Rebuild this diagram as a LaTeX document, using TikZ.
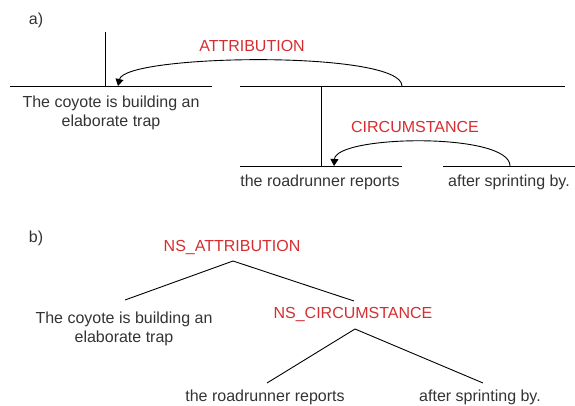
\documentclass[tikz,border=0pt]{standalone}
\usepackage{fontspec}
\setmainfont{Liberation Sans}
\usetikzlibrary{arrows.meta}

\definecolor{reltext}{RGB}{214,45,48}
\definecolor{edutext}{RGB}{51,51,51}

\begin{document}
\begin{tikzpicture}[x=1pt, y=-1pt, >={Triangle[width=8pt,length=7pt]},
  font=\fontsize{16}{18.5}\selectfont,
  T/.style={text=edutext, align=center, inner sep=0pt},
  R/.style={text=reltext, inner sep=0pt},
  seg/.style={draw=black, line width=0.9pt}]

\useasboundingbox (0,0) rectangle (575,406);

% (a) segment lines with relation arcs
\node[T] (tagA) at (36,20) {a)};

\coordinate (s1l) at (10,86);   \coordinate (s1r) at (212,86);
\coordinate (s2l) at (240,86);  \coordinate (s2r) at (565,86);
\coordinate (s3l) at (240,166); \coordinate (s3r) at (402,166);
\coordinate (s4l) at (443,166); \coordinate (s4r) at (575,166);
\coordinate (v1t) at (105,32);  \coordinate (v1b) at (105,86);
\coordinate (v2t) at (321,86);  \coordinate (v2b) at (321,166);

\draw[seg] (s1l) -- (s1r);
\draw[seg] (s2l) -- (s2r);
\draw[seg] (s3l) -- (s3r);
\draw[seg] (s4l) -- (s4r);
\draw[seg] (v1t) -- (v1b);
\draw[seg] (v2t) -- (v2b);

\node[T] (coyA) at (111,113) {The coyote is building an\\elaborate trap};
\node[T] (roadA) at (320,182) {the roadrunner reports};
\node[T] (sprintA) at (509,182) {after sprinting by.};

\coordinate (attS) at (402,86);  \coordinate (attE) at (118,86);
\coordinate (cirS) at (510,166); \coordinate (cirE) at (334,166);

\draw[seg, ->] (attS) .. controls (402,50) and (125,54) .. (attE);
\draw[seg, ->] (cirS) .. controls (510,132) and (336,135) .. (cirE);

\node[R] (attA) at (252,46) {ATTRIBUTION};
\node[R] (cirA) at (415,127) {CIRCUMSTANCE};

% (b) nuclearity tree
\node[T] (tagB) at (36,238) {b)};

\node[R] (attB) at (232,248) {NS\_ATTRIBUTION};
\node[R] (cirB) at (353,315) {NS\_CIRCUMSTANCE};
\node[T] (coyB) at (124,329) {The coyote is building an\\elaborate trap};
\node[T] (roadB) at (265,397) {the roadrunner reports};
\node[T] (sprintB) at (480,397) {after sprinting by.};

\coordinate (topB) at (233,261);  \coordinate (midB) at (355,329);
\coordinate (coyBt) at (125,300); \coordinate (cirBt) at (354,301);
\coordinate (roadBt) at (267,383); \coordinate (sprintBt) at (483,383);

\draw[seg] (topB) -- (coyBt);
\draw[seg] (topB) -- (cirBt);
\draw[seg] (midB) -- (roadBt);
\draw[seg] (midB) -- (sprintBt);

\end{tikzpicture}
\end{document}
